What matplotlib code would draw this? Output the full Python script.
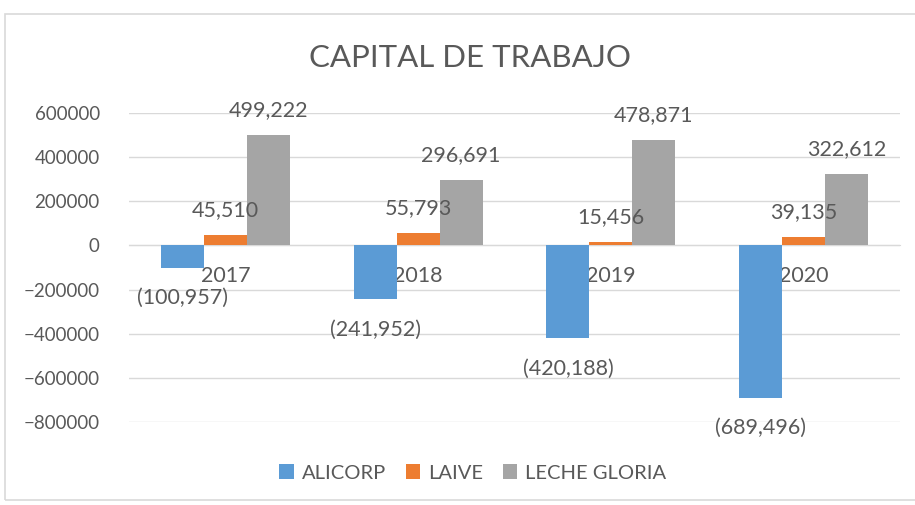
import numpy as np
import matplotlib.pyplot as plt
from matplotlib.patches import Rectangle

years = ['2017', '2018', '2019', '2020']
alicorp = [-100957, -241952, -420188, -689496]
laive = [45510, 55793, 15456, 39135]
gloria = [499222, 296691, 478871, 322612]

series = [('ALICORP', alicorp, '#5B9BD5'),
          ('LAIVE', laive, '#ED7D31'),
          ('LECHE GLORIA', gloria, '#A5A5A5')]

plt.rcParams['font.family'] = ['Lato', 'DejaVu Sans']
text_color = '#595959'

fig = plt.figure(figsize=(9.15, 5.05), dpi=100)
ax = fig.add_axes([129 / 915, 1 - 422 / 505, 771 / 915, 309 / 505])

# chart border
fig.patches.append(Rectangle((5 / 915, 0.01), 1.0, 1 - 14 / 505 - 0.01,
                             transform=fig.transFigure, fill=False,
                             edgecolor='#d9d9d9', linewidth=1.2))

x = np.arange(len(years))
w = 0.223
for i, (name, vals, color) in enumerate(series):
    pos = x + (i - 1) * w
    ax.bar(pos, vals, width=w, color=color, label=name, zorder=3)
    for p, v in zip(pos, vals):
        if v >= 0:
            txt = f'{v:,}'
            off = 18
        else:
            txt = f'({-v:,})'
            off = -22
        ax.annotate(txt, (p, v), xytext=(0, off), textcoords='offset points',
                    ha='center', va='center', fontsize=15.5, color=text_color,
                    zorder=10)

ax.set_xlim(-0.5, len(years) - 0.5)
ax.set_ylim(-800000, 600000)
ax.set_yticks(np.arange(-800000, 600001, 200000))
ax.yaxis.grid(True, color='#d9d9d9', linewidth=1)
ax.set_axisbelow(True)
ax.spines['bottom'].set_position(('data', 0))
ax.spines['bottom'].set_color('#d9d9d9')
for s in ['top', 'right', 'left']:
    ax.spines[s].set_visible(False)
ax.set_xticks(x)
ax.set_xticklabels(years)
ax.tick_params(axis='x', length=0, pad=15, labelsize=15.5, labelcolor=text_color)
ax.tick_params(axis='y', length=0, pad=21, labelsize=13.5, labelcolor=text_color)
for lbl in ax.get_xticklabels():
    lbl.set_zorder(5)

fig.text(470 / 915, 1 - 58 / 505, 'CAPITAL DE TRABAJO', ha='center', va='center',
         fontsize=22.5, color=text_color)

fig.legend(loc='center', bbox_to_anchor=(473 / 915, 1 - 473 / 505), ncol=3,
           frameon=False, fontsize=14.5, labelcolor=text_color,
           handlelength=0.7, handleheight=0.7, columnspacing=1.0, handletextpad=0.4)

fig.savefig('out.png', dpi=100)
